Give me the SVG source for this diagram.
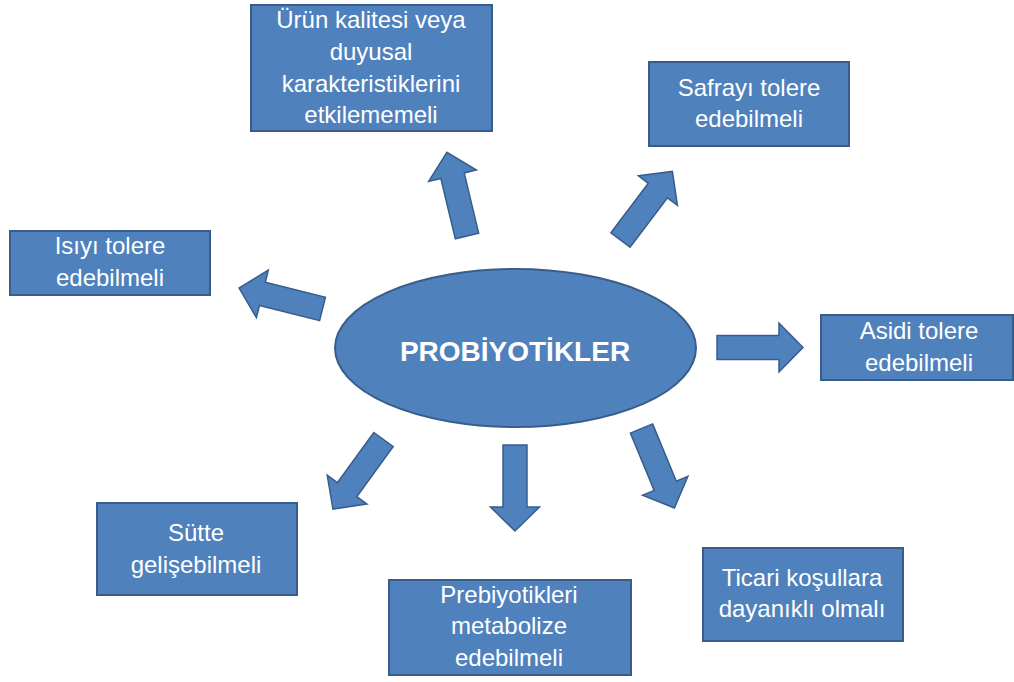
<svg xmlns="http://www.w3.org/2000/svg" width="1014" height="682" viewBox="0 0 1014 682">
<style>
.box{fill:#4f81bd;stroke:#385d8a;stroke-width:2}
.arr{fill:#4f81bd;stroke:#385d8a;stroke-width:1.5;stroke-linejoin:miter}
.t{font-family:"Liberation Sans",Arial,sans-serif;font-size:24px;fill:#ffffff;text-anchor:middle}
.tb{font-family:"Liberation Sans",Arial,sans-serif;font-size:28px;font-weight:bold;fill:#ffffff;text-anchor:middle}
</style>
<defs>
<path id="blk" d="M0,-12 L62,-12 L62,-24.5 L86,0 L62,24.5 L62,12 L0,12 Z"/>
</defs>
<rect width="1014" height="682" fill="#ffffff"/>
<g id="connectors">
<use href="#blk" class="arr" transform="translate(467,236) rotate(-103.5)"/>
<use href="#blk" class="arr" transform="translate(620.5,240) rotate(-52.9)"/>
<use href="#blk" class="arr" transform="translate(322.5,309) rotate(-165.9)"/>
<use href="#blk" class="arr" transform="translate(717,347.5)"/>
<use href="#blk" class="arr" transform="translate(383.5,439.5) rotate(126)"/>
<use href="#blk" class="arr" transform="translate(515,445) rotate(90)"/>
<use href="#blk" class="arr" transform="translate(641.5,428.5) rotate(67.5)"/>
</g>
<g id="center">
<ellipse class="box" cx="515.5" cy="348" rx="180.5" ry="79"/>
<text class="tb" x="515" y="361">PROBİYOTİKLER</text>
</g>
<g id="n-urun">
<rect class="box" x="251" y="5" width="241" height="126"/>
<text class="t" x="371" y="28">Ürün kalitesi veya</text>
<text class="t" x="371" y="60">duyusal</text>
<text class="t" x="371" y="92">karakteristiklerini</text>
<text class="t" x="371" y="123">etkilememeli</text>
</g>
<g id="n-safra">
<rect class="box" x="649" y="62" width="200" height="84"/>
<text class="t" x="749" y="96">Safrayı tolere</text>
<text class="t" x="749" y="127">edebilmeli</text>
</g>
<g id="n-isi">
<rect class="box" x="10" y="231" width="200" height="64"/>
<text class="t" x="110" y="254">Isıyı tolere</text>
<text class="t" x="110" y="286">edebilmeli</text>
</g>
<g id="n-asit">
<rect class="box" x="821" y="315" width="192" height="65"/>
<text class="t" x="919" y="339">Asidi tolere</text>
<text class="t" x="919" y="371">edebilmeli</text>
</g>
<g id="n-sut">
<rect class="box" x="97" y="503" width="200" height="92"/>
<text class="t" x="196" y="541">Sütte</text>
<text class="t" x="196" y="573">gelişebilmeli</text>
</g>
<g id="n-prebiyotik">
<rect class="box" x="389" y="580" width="242" height="95"/>
<text class="t" x="509" y="603">Prebiyotikleri</text>
<text class="t" x="509" y="634">metabolize</text>
<text class="t" x="509" y="666">edebilmeli</text>
</g>
<g id="n-ticari">
<rect class="box" x="703" y="548" width="200" height="93"/>
<text class="t" x="802" y="586">Ticari koşullara</text>
<text class="t" x="802" y="617">dayanıklı olmalı</text>
</g>
</svg>
